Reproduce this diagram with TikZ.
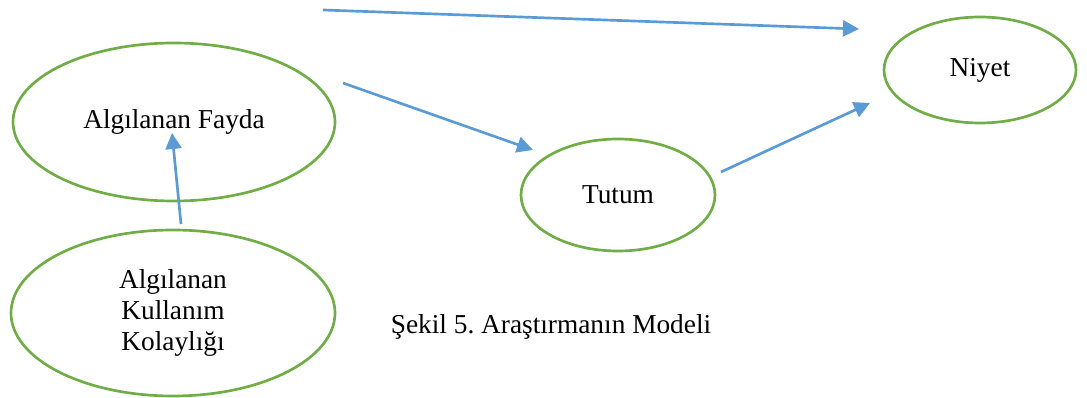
\documentclass[tikz,border=0pt]{standalone}
\usepackage{fontspec}
\setmainfont{Liberation Serif}
\usetikzlibrary{shapes.geometric,arrows.meta}
\definecolor{egreen}{HTML}{70AD47}
\definecolor{ablue}{HTML}{5B9BD5}
\begin{document}
\frenchspacing
\begin{tikzpicture}[x=0.75pt,y=-0.75pt,
  oval/.style={ellipse,draw=egreen,line width=2pt,inner sep=0pt,align=center,font=\fontsize{20.5}{23.5}\selectfont},
  link/.style={draw=ablue,line width=2pt,-{Triangle[length=12pt,width=12pt]}},
  lbl/.style={font=\fontsize{20.5}{23.5}\selectfont,inner sep=0pt}]
\useasboundingbox (0,0) rectangle (1087,398);
\node[oval,minimum width=241.5pt,minimum height=118.5pt] (fayda) at (174,122) {Algılanan Fayda};
\node[oval,minimum width=243pt,minimum height=124.5pt] (kolay) at (173,313) {Algılanan\\Kullanım\\Kolaylığı};
\node[oval,minimum width=145.5pt,minimum height=84pt] (tutum) at (618,195) {Tutum};
\node[oval,minimum width=144pt,minimum height=79.5pt] (niyet) at (980,70) {Niyet};
\node[lbl] (caption) at (551,327) {Şekil 5. Araştırmanın Modeli};
\coordinate (topstart) at (323,10);
\coordinate (topend) at (859,29);
\coordinate (ftstart) at (343,83);
\coordinate (ftend) at (533,150);
\coordinate (tnstart) at (721,172);
\coordinate (tnend) at (870,103);
\coordinate (kfstart) at (181,224);
\coordinate (kfend) at (172,133);
\draw[link] (topstart) -- (topend);
\draw[link] (ftstart) -- (ftend);
\draw[link] (tnstart) -- (tnend);
\draw[link] (kfstart) -- (kfend);
\end{tikzpicture}
\end{document}
